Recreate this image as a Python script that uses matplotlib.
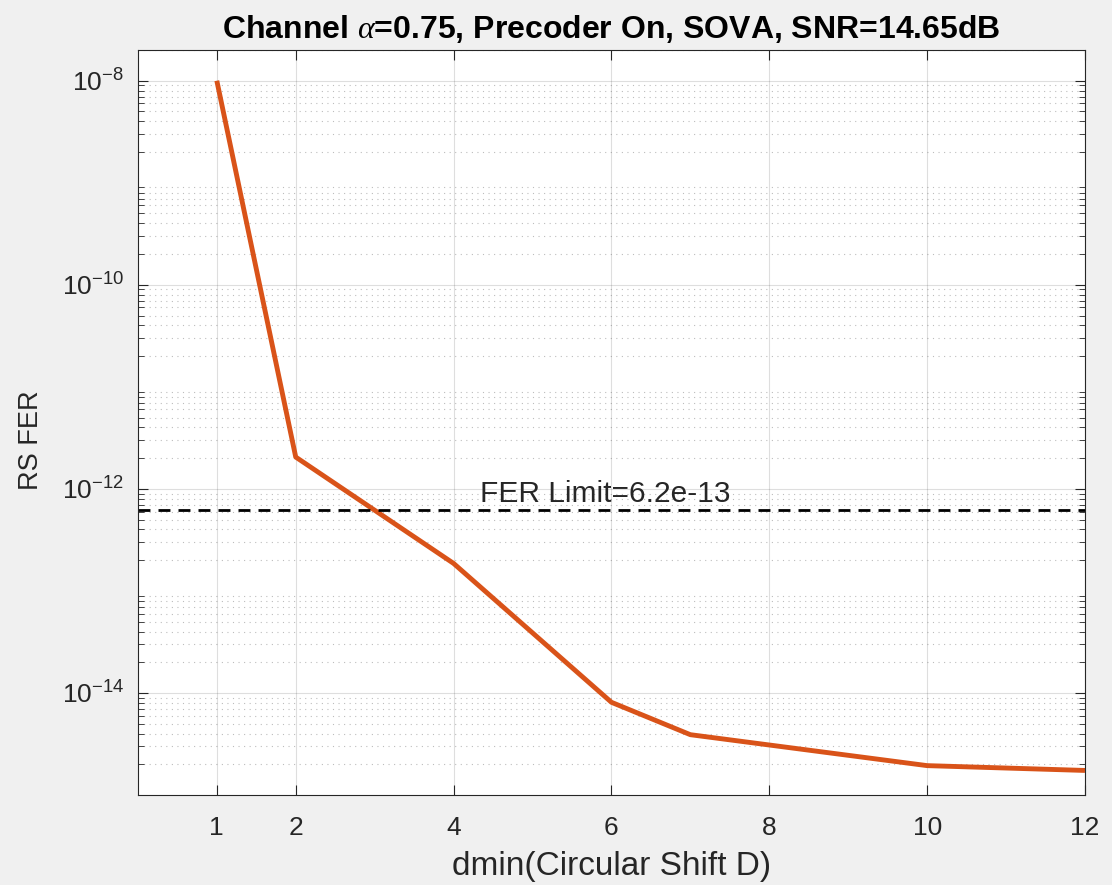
import matplotlib
matplotlib.use("Agg")
import matplotlib.pyplot as plt
import numpy as np
from matplotlib.ticker import LogLocator, FixedLocator, NullFormatter

plt.rcParams['font.family'] = ['Liberation Sans', 'DejaVu Sans']
plt.rcParams['mathtext.fontset'] = 'custom'
plt.rcParams['mathtext.rm'] = 'Liberation Sans'
plt.rcParams['mathtext.it'] = 'Liberation Serif:italic'
plt.rcParams['mathtext.bf'] = 'Liberation Sans:bold'
plt.rcParams['axes.unicode_minus'] = False

# data
dmin = [1, 2, 4, 6, 7, 10, 12]
rs_fer = [1.0e-8, 2.05e-12, 1.86e-13, 8.1e-15, 3.9e-15, 1.94e-15, 1.74e-15]
fer_limit = 6.2e-13
xtick_vals = [1, 2, 4, 6, 8, 10, 12]

fig = plt.figure(figsize=(11.12, 8.85), dpi=100, facecolor='#f0f0f0')
ax = fig.add_axes([0.124, 0.1017, 0.8517, 0.8418])
ax.set_facecolor('white')

ax.semilogy(dmin, rs_fer, color='#D95319', linewidth=3.5, solid_capstyle='butt')
ax.axhline(fer_limit, color='black', linestyle=(0, (4.3, 2.9)), linewidth=2.0)
ax.text(4.33, 7.4e-13, 'FER Limit=6.2e-13', fontsize=21.5, color='#262626',
        ha='left', va='baseline')

ax.set_xlim(0, 12)
ax.set_ylim(1e-15, 2e-8)
ax.xaxis.set_major_locator(FixedLocator(xtick_vals))
ax.yaxis.set_major_locator(FixedLocator([1e-14, 1e-12, 1e-10, 1e-8]))
ax.yaxis.set_minor_locator(LogLocator(base=10, subs=np.arange(2, 10), numticks=30))
ax.yaxis.set_minor_formatter(NullFormatter())

ax.grid(True, which='major', color='#262626', alpha=0.15, linewidth=0.8)
ax.grid(True, which='minor', axis='y', color='#262626', alpha=0.3,
        linestyle=(0, (1, 4)), linewidth=0.8)
ax.set_axisbelow(True)

ax.tick_params(which='both', direction='in', top=True, right=True, colors='#262626',
               labelsize=19)
ax.tick_params(which='major', length=7, width=0.8)
ax.tick_params(which='minor', length=4, width=0.6)
ax.tick_params(axis='x', pad=15)
ax.tick_params(axis='y', pad=10)
for s in ax.spines.values():
    s.set_color('#262626')
    s.set_linewidth(0.8)

ax.set_xlabel('dmin(Circular Shift D)', fontsize=24, color='#262626')
ax.xaxis.set_label_coords(0.5, -0.075)
ax.set_ylabel('RS FER', fontsize=19.5, color='#262626')
ax.yaxis.set_label_coords(-0.099, 0.476)
ax.set_title(r'Channel $\alpha$=0.75, Precoder On, SOVA, SNR=14.65dB',
             fontsize=23, fontweight='bold', pad=9)

fig.savefig('out.png', dpi=100, facecolor=fig.get_facecolor())
